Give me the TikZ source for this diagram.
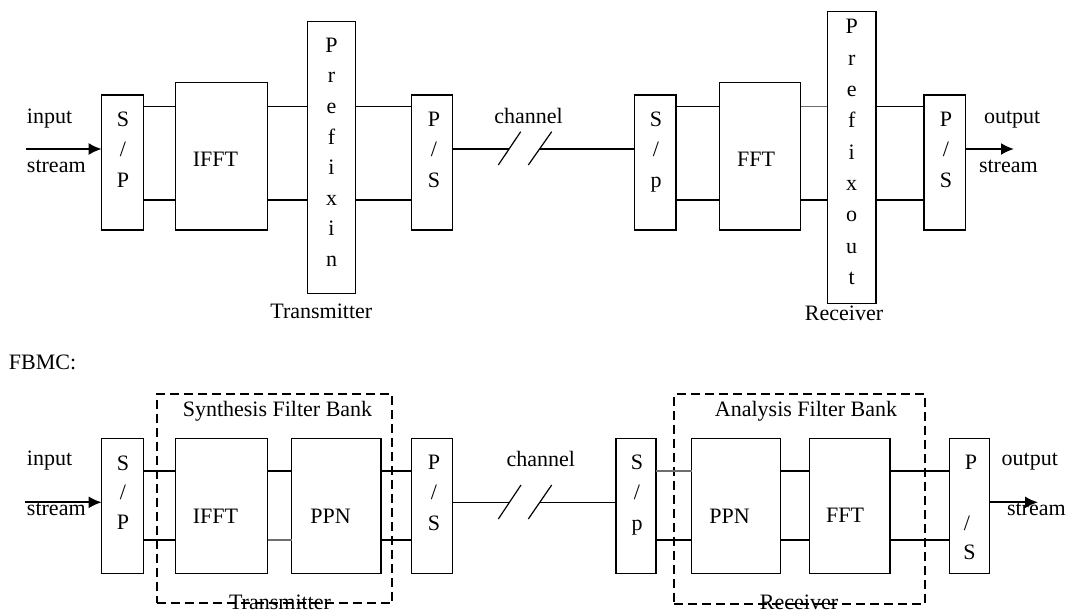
\documentclass[tikz,border=0pt]{standalone}
\usepackage{fontspec}
\setmainfont{Liberation Serif}
\usetikzlibrary{arrows.meta}
\definecolor{lgray}{RGB}{110,110,110}
\begin{document}
\begin{tikzpicture}[x=1pt,y=-1pt,
  every node/.style={inner sep=0pt, outer sep=0pt, font=\fontsize{22}{26}\selectfont},
  box/.style={draw, line width=1.2pt, rectangle},
  conn/.style={line width=1.2pt},
  greyconn/.style={line width=1.2pt, draw=lgray},
  arr/.style={line width=2pt, -{Latex[length=13pt,width=12pt]}},
  dashbox/.style={draw, line width=2.3pt, dash pattern=on 9pt off 5pt, rectangle},
  lbl/.style={anchor=base}
]
\useasboundingbox (0,0) rectangle (1069,614);

% level coordinates
\coordinate (tu) at (0,106.7);
\coordinate (tl) at (0,200);
\coordinate (tm) at (0,149);
\coordinate (bu) at (0,471);
\coordinate (bl) at (0,540);
\coordinate (bm) at (0,502.3);

% ---------------- top (OFDM) ----------------
\node[box, minimum width=41.6pt, minimum height=135pt]   (sp1)   at (122.5,162.5) {};
\node[box, minimum width=92pt,   minimum height=147.7pt] (ifft1) at (221.7,156.15) {};
\node[box, minimum width=48.4pt, minimum height=271.6pt] (pre1)  at (331.5,157.5) {};
\node[box, minimum width=40.6pt, minimum height=135pt]   (ps1)   at (432,162.5) {};
\node[box, minimum width=41.7pt, minimum height=135pt]   (sp2)   at (655.15,162.5) {};
\node[box, minimum width=81.4pt, minimum height=147.7pt] (fft1)  at (760,156.15) {};
\node[box, minimum width=48.7pt, minimum height=291.6pt] (pre2)  at (851.65,157.5) {};
\node[box, minimum width=41.7pt, minimum height=135pt]   (ps2)   at (944.85,162.5) {};

\node[lbl] (tifft) at (215.5,166.7) {IFFT};
\node[lbl] (tfft)  at (756,166.7) {FFT};

\foreach \c [count=\i from 0] in {S,{/},P} \node[lbl] (sp1l\i) at (123,{126.3+30.5*\i}) {\c};
\foreach \c [count=\i from 0] in {P,{/},S} \node[lbl] (ps1l\i) at (434,{126.3+30.5*\i}) {\c};
\foreach \c [count=\i from 0] in {S,{/},p} \node[lbl] (sp2l\i) at (656,{126.3+30.5*\i}) {\c};
\foreach \c [count=\i from 0] in {P,{/},S} \node[lbl] (ps2l\i) at (946,{126.3+30.5*\i}) {\c};
\foreach \c [count=\i from 0] in {P,r,e,f,i,x,i,n} \node[lbl] (pi\i) at (331.5,{52.2+30.6*\i}) {\c};
\foreach \c [count=\i from 0] in {P,r,e,f,i,x,o,u,t} \node[lbl] (po\i) at (851.7,{33.9+31.3*\i}) {\c};

\foreach \a/\b in {sp1/ifft1, ifft1/pre1, pre1/ps1, sp2/fft1, pre2/ps2} {
  \draw[conn] (\a.east |- tu) -- (\b.west |- tu);
  \draw[conn] (\a.east |- tl) -- (\b.west |- tl);
}
\draw[greyconn] (fft1.east |- tu) -- (pre2.west |- tu);
\draw[conn] (fft1.east |- tl) -- (pre2.west |- tl);

\coordinate (in1) at (26,149);
\coordinate (out1) at (1014,149);
\draw[arr] (in1) -- (sp1.west |- tm);
\draw[arr] (ps2.east |- tm) -- (out1);

\coordinate (c1a) at (509.1,149);
\coordinate (c1b) at (539.5,149);
\coordinate (s1a) at (498.3,165);
\coordinate (s1b) at (520.7,131.7);
\coordinate (s2a) at (528.3,165);
\coordinate (s2b) at (551.7,131.7);
\draw[conn] (ps1.east |- tm) -- (c1a);
\draw[conn] (c1b) -- (sp2.west |- tm);
\draw[conn] (s1a) -- (s1b);
\draw[conn] (s2a) -- (s2b);

\node[lbl, anchor=base west] (tin)   at (27,123.3) {input};
\node[lbl, anchor=base west] (tst)   at (27,172) {stream};
\node[lbl, anchor=base west] (tout)  at (984,123) {output};
\node[lbl, anchor=base west] (tst2)  at (979,172) {stream};
\node[lbl] (tch)  at (528.5,123.3) {channel};
\node[lbl] (ttx)  at (321.3,318.3) {Transmitter};
\node[lbl] (trx)  at (844,320) {Receiver};

\node[lbl, anchor=base west] (fbmc) at (9,369) {FBMC:};

% ---------------- bottom (FBMC) ----------------
\node[dashbox, minimum width=235.6pt, minimum height=209.3pt] (dtx) at (274.5,498.65) {};
\node[dashbox, minimum width=250.7pt, minimum height=210pt]   (drx) at (799.65,499) {};

\node[box, minimum width=41.6pt, minimum height=135pt] (sp3)   at (122.5,505.8) {};
\node[box, minimum width=92pt,   minimum height=135pt] (ifft2) at (221.7,505.8) {};
\node[box, minimum width=89.3pt, minimum height=135pt] (ppn1)  at (336.35,505.8) {};
\node[box, minimum width=40.6pt, minimum height=135pt] (ps3)   at (432,505.8) {};
\node[box, minimum width=40pt,   minimum height=135pt] (sp4)   at (636,505.8) {};
\node[box, minimum width=89pt,   minimum height=135pt] (ppn2)  at (736.2,505.8) {};
\node[box, minimum width=80.7pt, minimum height=135pt] (fft2)  at (849.65,505.8) {};
\node[box, minimum width=40pt,   minimum height=135pt] (ps4)   at (969.3,505.8) {};

\node[lbl] (bifft) at (215.5,523.3) {IFFT};
\node[lbl] (bppn1) at (330.5,523.3) {PPN};
\node[lbl] (bppn2) at (729.5,523.3) {PPN};
\node[lbl] (bfft)  at (845,522.7) {FFT};

\foreach \c [count=\i from 0] in {S,{/},P} \node[lbl] (sp3l\i) at (123,{470.5+29.4*\i}) {\c};
\foreach \c [count=\i from 0] in {P,{/},S} \node[lbl] (ps3l\i) at (434,{469+30.8*\i}) {\c};
\foreach \c [count=\i from 0] in {S,{/},p} \node[lbl] (sp4l\i) at (637,{469.5+30.3*\i}) {\c};
\node[lbl] (ps4a) at (971,469) {P};
\node[lbl] (ps4b) at (967,530) {/};
\node[lbl] (ps4c) at (969.5,559.5) {S};

\node[lbl] (syn) at (277.5,416.7) {Synthesis Filter Bank};
\node[lbl] (ana) at (806,416.7) {Analysis Filter Bank};

\foreach \a/\b in {sp3/ifft2, ppn1/ps3, ppn2/fft2, fft2/ps4} {
  \draw[conn] (\a.east |- bu) -- (\b.west |- bu);
  \draw[conn] (\a.east |- bl) -- (\b.west |- bl);
}
\draw[conn] (ifft2.east |- bu) -- (ppn1.west |- bu);
\draw[greyconn] (ifft2.east |- bl) -- (ppn1.west |- bl);
\draw[greyconn] (sp4.east |- bu) -- (ppn2.west |- bu);
\draw[conn] (sp4.east |- bl) -- (ppn2.west |- bl);

\coordinate (in2) at (25,502.3);
\coordinate (out2) at (1038,502.3);
\draw[arr] (in2) -- (sp3.west |- bm);
\draw[arr] (ps4.east |- bm) -- (out2);

\coordinate (c2a) at (509.4,502.3);
\coordinate (c2b) at (539.8,502.3);
\coordinate (s3a) at (498.3,519);
\coordinate (s3b) at (521,485);
\coordinate (s4a) at (528.3,519);
\coordinate (s4b) at (551.7,485);
\draw[conn] (ps3.east |- bm) -- (c2a);
\draw[conn] (c2b) -- (sp4.west |- bm);
\draw[conn] (s3a) -- (s3b);
\draw[conn] (s4a) -- (s4b);

\node[lbl, anchor=base west] (bin)   at (27,465.7) {input};
\node[lbl, anchor=base west] (bst)   at (27,515.7) {stream};
\node[lbl, anchor=base west] (bout)  at (1001.7,465.7) {output};
\node[lbl, anchor=base west] (bst2)  at (1007,515.7) {stream};
\node[lbl] (bch)  at (540.8,466.7) {channel};
\node[lbl] (btx)  at (280,609) {Transmitter};
\node[lbl] (brx)  at (799,609) {Receiver};
\end{tikzpicture}
\end{document}
